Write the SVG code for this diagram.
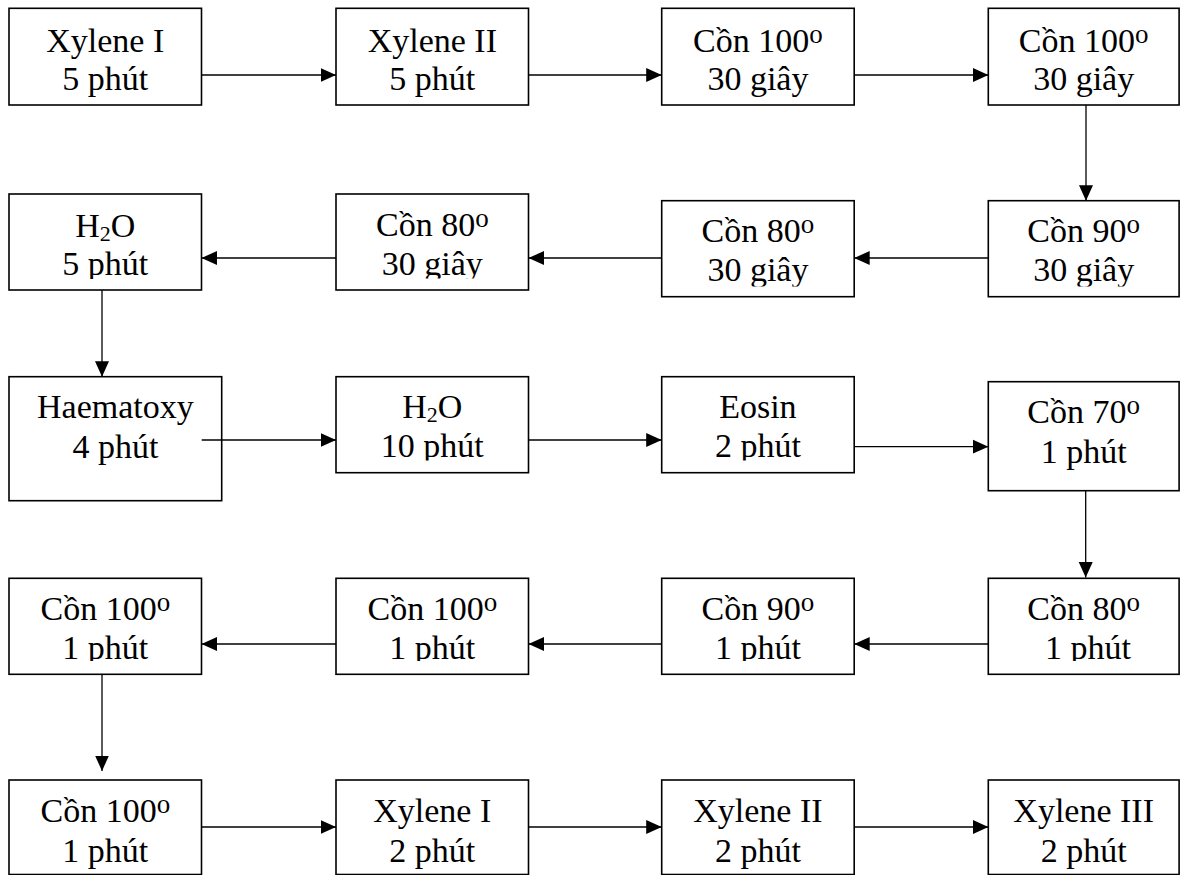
<svg xmlns="http://www.w3.org/2000/svg" width="1180" height="875" viewBox="0 0 1180 875">
<defs>
<style>
.box{fill:#fff;stroke:#000;stroke-width:1.6}
.t text{font-size:34px;fill:#000;text-anchor:middle}
.conn line{stroke:#000;stroke-width:1.3;marker-end:url(#ah)}
</style>
<marker id="ah" markerUnits="userSpaceOnUse" markerWidth="16" markerHeight="15" refX="15.5" refY="7" orient="auto" viewBox="0 0 16 14"><path d="M0,0 L15.5,7 L0,14 Z" fill="#000"/></marker>
<clipPath id="k5"><rect x="988" y="200" width="192" height="86.5"/></clipPath>
<clipPath id="k6"><rect x="661" y="200" width="194" height="86.5"/></clipPath>
<clipPath id="k7"><rect x="336" y="194" width="193" height="84.5"/></clipPath>
<clipPath id="k8"><rect x="9" y="194" width="193" height="85"/></clipPath>
<clipPath id="k10"><rect x="336" y="376" width="193" height="84.5"/></clipPath>
<clipPath id="k11"><rect x="661" y="376" width="194" height="84.5"/></clipPath>
<clipPath id="k4r"><rect x="0" y="578" width="1180" height="83"/></clipPath>
</defs>
<rect width="1180" height="875" fill="#fff"/>
<g class="t" font-family="Liberation Serif, Times New Roman, DejaVu Serif, serif">
<g id="n1"><rect class="box" x="9" y="8.3" width="192.5" height="96.7"/><text x="105.3" y="51.7">Xylene I</text><text x="105.3" y="90">5 phút</text></g>
<g id="n2"><rect class="box" x="336" y="8.3" width="192.5" height="96.7"/><text x="432.3" y="51.7">Xylene II</text><text x="432.3" y="90">5 phút</text></g>
<g id="n3"><rect class="box" x="661.7" y="8.3" width="192.5" height="96.7"/><text x="757.9" y="51.7">Cồn 100<tspan font-size="27" dy="-9">o</tspan></text><text x="757.9" y="90">30 giây</text></g>
<g id="n4"><rect class="box" x="988.3" y="8.3" width="190.8" height="96.7"/><text x="1083.7" y="51.7">Cồn 100<tspan font-size="27" dy="-9">o</tspan></text><text x="1083.7" y="90">30 giây</text></g>

<g id="n5"><rect class="box" x="988.3" y="200.7" width="190.8" height="96"/><g clip-path="url(#k5)"><text x="1083.7" y="241.7">Cồn 90<tspan font-size="27" dy="-9">o</tspan></text><text x="1083.7" y="280.7">30 giây</text></g></g>
<g id="n6"><rect class="box" x="661.7" y="200.7" width="192.5" height="96"/><g clip-path="url(#k6)"><text x="757.9" y="241.7">Cồn 80<tspan font-size="27" dy="-9">o</tspan></text><text x="757.9" y="280.7">30 giây</text></g></g>
<g id="n7"><rect class="box" x="336" y="194" width="192.5" height="96"/><g clip-path="url(#k7)"><text x="432.3" y="235.5">Cồn 80<tspan font-size="27" dy="-9">o</tspan></text><text x="432.3" y="275">30 giây</text></g></g>
<g id="n8"><rect class="box" x="9" y="194" width="192.5" height="96"/><g clip-path="url(#k8)"><text x="105.3" y="236.5">H<tspan font-size="22" dy="4">2</tspan><tspan dy="-4">O</tspan></text><text x="105.3" y="275">5 phút</text></g></g>

<g id="n9"><rect class="box" x="9" y="376.7" width="212.7" height="124"/><text x="115.4" y="418">Haematoxy</text><text x="115.4" y="458">4 phút</text></g>
<g id="n10"><rect class="box" x="336" y="376.7" width="192.5" height="96"/><g clip-path="url(#k10)"><text x="432.3" y="418.3">H<tspan font-size="22" dy="4">2</tspan><tspan dy="-4">O</tspan></text><text x="432.3" y="457.3">10 phút</text></g></g>
<g id="n11"><rect class="box" x="661.7" y="376.7" width="192.5" height="96"/><g clip-path="url(#k11)"><text x="757.9" y="418">Eosin</text><text x="757.9" y="457">2 phút</text></g></g>
<g id="n12"><rect class="box" x="988.3" y="381.7" width="190.8" height="109"/><text x="1083.7" y="423.3">Cồn 70<tspan font-size="27" dy="-9">o</tspan></text><text x="1083.7" y="463.3">1 phút</text></g>

<g id="n13"><rect class="box" x="988.3" y="578.3" width="190.8" height="96"/><g clip-path="url(#k4r)"><text x="1083.7" y="620">Cồn 80<tspan font-size="27" dy="-9">o</tspan></text><text x="1088" y="659.3">1 phút</text></g></g>
<g id="n14"><rect class="box" x="661.7" y="578.3" width="192.5" height="96"/><g clip-path="url(#k4r)"><text x="757.9" y="620">Cồn 90<tspan font-size="27" dy="-9">o</tspan></text><text x="757.9" y="659.3">1 phút</text></g></g>
<g id="n15"><rect class="box" x="336" y="578.3" width="192.5" height="96"/><g clip-path="url(#k4r)"><text x="432.3" y="620">Cồn 100<tspan font-size="27" dy="-9">o</tspan></text><text x="432.3" y="659.3">1 phút</text></g></g>
<g id="n16"><rect class="box" x="9" y="578.3" width="192.5" height="96"/><g clip-path="url(#k4r)"><text x="105.3" y="620">Cồn 100<tspan font-size="27" dy="-9">o</tspan></text><text x="105.3" y="659.3">1 phút</text></g></g>

<g id="n17"><rect class="box" x="9" y="780" width="192.5" height="94.5"/><text x="105.3" y="821.7">Cồn 100<tspan font-size="27" dy="-9">o</tspan></text><text x="105.3" y="861.7">1 phút</text></g>
<g id="n18"><rect class="box" x="336" y="780" width="192.5" height="94.5"/><text x="432.3" y="821.7">Xylene I</text><text x="432.3" y="861.7">2 phút</text></g>
<g id="n19"><rect class="box" x="661.7" y="780" width="192.5" height="94.5"/><text x="757.9" y="821.7">Xylene II</text><text x="757.9" y="861.7">2 phút</text></g>
<g id="n20"><rect class="box" x="988.3" y="780" width="190.8" height="94.5"/><text x="1083.7" y="821.7">Xylene III</text><text x="1083.7" y="861.7">2 phút</text></g>
</g>
<g id="connectors" class="conn">
<line x1="201.7" y1="75" x2="336" y2="75"/>
<line x1="528.5" y1="75" x2="661.7" y2="75"/>
<line x1="854.2" y1="75" x2="988.3" y2="75"/>
<line x1="1086" y1="105" x2="1086" y2="200.7"/>
<line x1="988.3" y1="258" x2="854.2" y2="258"/>
<line x1="661.7" y1="258" x2="528.5" y2="258"/>
<line x1="336" y1="258" x2="201.5" y2="258"/>
<line x1="102" y1="290" x2="102" y2="376.7"/>
<line x1="201.7" y1="440" x2="336" y2="440"/>
<line x1="528.5" y1="440" x2="661.7" y2="440"/>
<line x1="854.2" y1="446.7" x2="988.3" y2="446.7"/>
<line x1="1085.7" y1="490.7" x2="1085.7" y2="577.5"/>
<line x1="988.3" y1="644" x2="854.2" y2="644"/>
<line x1="661.7" y1="644" x2="528.5" y2="644"/>
<line x1="336" y1="644" x2="201.5" y2="644"/>
<line x1="102" y1="674.3" x2="102" y2="771"/>
<line x1="201.7" y1="827" x2="336" y2="827"/>
<line x1="528.5" y1="827" x2="661.7" y2="827"/>
<line x1="854.2" y1="827" x2="988.3" y2="827"/>
</g>
</svg>
